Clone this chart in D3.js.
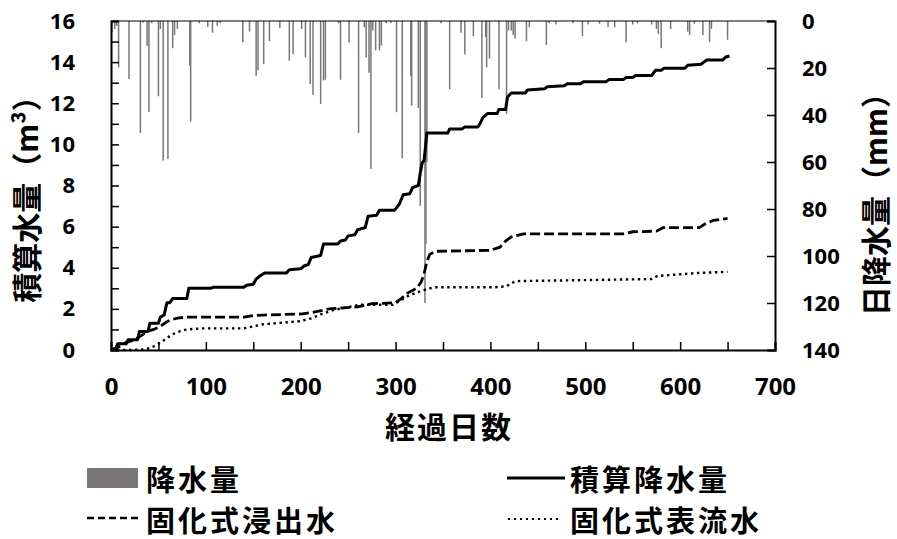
<!DOCTYPE html>
<html>
<head>
<meta charset="utf-8">
<script src="https://cdn.jsdelivr.net/npm/d3@7"></script>
<style>
  html, body { margin: 0; padding: 0; background: #fff; }
  svg { display: block; }
  .num { font-family: "Open Sans", "Noto Sans", sans-serif; font-weight: 700; fill: #000; }
  .jp { font-family: "Noto Sans CJK JP", "Noto Sans CJK SC", sans-serif; font-weight: 700; fill: #000; }
</style>
</head>
<body>
<svg id="chart" width="897" height="539"></svg>
<script>
// ---------------- DATA ----------------
// Daily precipitation (day, mm)
const precipDays = [1,4,6,8,19,31,34,38,40,43,50,52,55,60,65,67,70,83,84,93,102,107,112,115,139,146,153,155,161,167,178,188,192,201,205,210,213,221,224,226,240,242,251,261,267,269,272,274,276,279,283,285,290,295,301,307,316,317,324,326,331,332,333,348,357,369,373,382,391,395,396,399,409,417,419,422,424,426,438,441,459,462,469,487,497,503,515,524,531,543,550,555,570,575,577,580,590,608,610,615,624,631,633,650];
const precipMm   = [4.8,3.4,2,19.7,24.7,47.7,0.7,10.5,38.7,1,32,3.4,59.4,58.7,11.6,6,3.4,19,42.7,1,2.6,5,2,1,9,4.5,23.3,21,18.3,8.6,3,16.9,14.2,3.4,15.5,26.8,31.5,35.3,25.3,25,1,25,9.2,47.7,2.6,15.5,22,63,4,12.5,12.5,10.5,1,1,38.8,58.4,23.3,36,37,78.6,120,95,60,1,29,5,14.3,6.5,32.8,6.8,19.7,16,29,39.6,4,4,6,7.5,8.5,2.6,10.2,1,1.5,1,6.5,1.5,1.2,2.6,2.6,9,1.5,1,1.5,3.4,5.5,11.6,3.4,4.5,6,1.2,6,9,3.4,8];

// Cumulative precipitation volume (day, m3)
const cumRainDays = [0,5,7,16,18,28,30,39,41,50,52,56,59,62,65,80,82,105,108,140,143,150,153,157,162,185,188,200,204,208,211,221,224,239,242,247,250,257,260,268,271,280,283,299,304,308,315,318,324,326,328,330,333,355,357,370,373,387,390,392,397,407,409,416,418,422,437,439,457,460,478,481,495,498,522,525,540,543,550,553,570,574,580,583,605,608,622,625,628,645,648,652];
const cumRainVals = [0,0.05,0.3,0.3,0.5,0.5,0.9,0.9,1.3,1.3,1.6,1.7,2.3,2.3,2.5,2.5,3.0,3.0,3.05,3.05,3.15,3.2,3.45,3.6,3.75,3.75,3.9,3.95,4.1,4.15,4.5,4.6,5.15,5.15,5.3,5.35,5.55,5.6,5.85,5.95,6.5,6.55,6.8,6.8,7.1,7.55,7.6,7.9,8.0,8.6,9.1,9.2,10.55,10.55,10.75,10.75,10.85,10.85,11.1,11.3,11.5,11.5,11.7,11.7,12.3,12.5,12.5,12.65,12.7,12.8,12.85,12.95,12.95,13.05,13.05,13.15,13.15,13.25,13.25,13.35,13.35,13.6,13.6,13.7,13.7,13.85,13.9,14.0,14.1,14.1,14.25,14.3];

// Leachate (固化式浸出水) cumulative (day, m3)
const leachDays = [0,8,15,25,32,38,45,52,58,62,70,80,140,150,160,200,215,230,260,275,300,306,312,318,322,327,330,333,336,342,400,410,416,422,435,540,550,575,582,620,627,635,650];
const leachVals = [0,0.15,0.35,0.5,0.7,0.9,1.0,1.15,1.35,1.45,1.55,1.6,1.6,1.68,1.7,1.75,1.85,2.0,2.1,2.25,2.3,2.5,2.75,2.9,3.0,3.3,3.7,4.3,4.65,4.8,4.85,5.0,5.3,5.5,5.65,5.65,5.75,5.78,5.95,5.95,6.15,6.3,6.4];

// Surface runoff (固化式表流水) cumulative (day, m3)
const runoffDays = [0,20,35,42,48,52,58,64,72,80,95,140,150,160,199,212,222,235,262,297,305,312,320,329,336,343,405,417,422,427,500,570,576,620,650];
const runoffVals = [0,0,0.03,0.1,0.25,0.35,0.55,0.75,0.9,1.0,1.05,1.05,1.15,1.25,1.4,1.55,1.75,1.95,2.2,2.2,2.4,2.6,2.75,2.9,3.0,3.05,3.05,3.1,3.25,3.35,3.4,3.45,3.6,3.75,3.8];

const xTicks = [0,100,200,300,400,500,600,700];
const yLeftTicks = [0,2,4,6,8,10,12,14,16];
const yRightTicks = [0,20,40,60,80,100,120,140];

const xTitle = "経過日数";
const yLeftTitle = "積算水量（m³）";
const yRightTitle = "日降水量（mm）";
const legendLabels = ["降水量", "積算降水量", "固化式浸出水", "固化式表流水"];

// ---------------- LAYOUT ----------------
const svg = d3.select("#chart");
const L = 111, R = 775, T = 21, B = 350;

const x = d3.scaleLinear().domain([0, 700]).range([L, R]);
const yL = d3.scaleLinear().domain([0, 16]).range([B, T]);
const yR = d3.scaleLinear().domain([0, 140]).range([T, B]);

const barColor = "#7a7676";

// precipitation bars (hanging from top)
svg.append("g").selectAll("line")
  .data(precipDays.map((d, i) => ({d, v: precipMm[i]})))
  .join("line")
  .attr("x1", p => x(p.d)).attr("x2", p => x(p.d))
  .attr("y1", yR(0)).attr("y2", p => yR(p.v))
  .attr("stroke", barColor).attr("stroke-width", 1.5);

const line = d3.line().x(p => x(p[0])).y(p => yL(p[1]));
const zipped = (a, b) => a.map((d, i) => [d, b[i]]);

svg.append("path").datum(zipped(runoffDays, runoffVals))
  .attr("d", line).attr("fill", "none").attr("stroke", "#000")
  .attr("stroke-width", 2.4).attr("stroke-dasharray", "2.4,3.6");
svg.append("path").datum(zipped(leachDays, leachVals))
  .attr("d", line).attr("fill", "none").attr("stroke", "#000")
  .attr("stroke-width", 2.8).attr("stroke-dasharray", "10,4");
svg.append("path").datum(zipped(cumRainDays, cumRainVals))
  .attr("d", line).attr("fill", "none").attr("stroke", "#000")
  .attr("stroke-width", 3).attr("stroke-linejoin", "round");

// frame top
svg.append("line").attr("x1", L).attr("x2", R).attr("y1", T).attr("y2", T)
  .attr("stroke", "#000").attr("stroke-width", 1.2);

// axes
const gx = svg.append("g").attr("transform", `translate(0,${B})`)
  .call(d3.axisBottom(x).tickValues(d3.range(0, 701, 50)).tickSize(-8).tickPadding(28)
    .tickFormat(d => xTicks.includes(d) ? d : ""));
const gl = svg.append("g").attr("transform", `translate(${L},0)`)
  .call(d3.axisLeft(yL).tickValues(d3.range(0, 17, 1)).tickSize(-8).tickPadding(36)
    .tickFormat(d => yLeftTicks.includes(d) ? d : ""));
const gr = svg.append("g").attr("transform", `translate(${R},0)`)
  .call(d3.axisRight(yR).tickValues(yRightTicks).tickSize(-8).tickPadding(27));

[gx, gl, gr].forEach(g => {
  g.select(".domain").attr("stroke", "#000").attr("stroke-width", 2);
  g.selectAll(".tick line").attr("stroke", "#000").attr("stroke-width", 1.5);
  g.selectAll("text").attr("class", "num").attr("fill", "#000").attr("font-family", null).attr("font-size", null);
});
gx.selectAll("text").style("font-size", "24px");
gl.selectAll("text").style("font-size", "22px");
gr.selectAll("text").style("font-size", "22px");

// axis titles
svg.append("text").attr("class", "jp").attr("x", 449).attr("y", 425)
  .attr("text-anchor", "middle").attr("dominant-baseline", "central")
  .style("font-size", "30px").style("letter-spacing", "2px").text(xTitle);
svg.append("text").attr("class", "jp")
  .attr("transform", "translate(25,192) rotate(-90)")
  .attr("text-anchor", "middle").attr("dominant-baseline", "central")
  .style("font-size", "30px").text(yLeftTitle);
svg.append("text").attr("class", "jp")
  .attr("transform", "translate(874,197) rotate(-90)")
  .attr("text-anchor", "middle").attr("dominant-baseline", "central")
  .style("font-size", "30px").text(yRightTitle);

// legend
const lg = svg.append("g");
lg.append("rect").attr("x", 87).attr("y", 468).attr("width", 51).attr("height", 20).attr("fill", barColor);
lg.append("line").attr("x1", 507).attr("x2", 565).attr("y1", 478).attr("y2", 478)
  .attr("stroke", "#000").attr("stroke-width", 3);
lg.append("line").attr("x1", 87).attr("x2", 142).attr("y1", 518).attr("y2", 518)
  .attr("stroke", "#000").attr("stroke-width", 2.5).attr("stroke-dasharray", "7,4");
lg.append("line").attr("x1", 508).attr("x2", 562).attr("y1", 519).attr("y2", 519)
  .attr("stroke", "#000").attr("stroke-width", 2).attr("stroke-dasharray", "2,4");
const legPos = [[146, 478], [570, 478], [146, 519], [570, 519]];
legendLabels.forEach((t, i) => {
  lg.append("text").attr("class", "jp").attr("x", legPos[i][0]).attr("y", legPos[i][1])
    .attr("dominant-baseline", "central").style("font-size", "29px").style("letter-spacing", "3px").text(t);
});
</script>
</body>
</html>
